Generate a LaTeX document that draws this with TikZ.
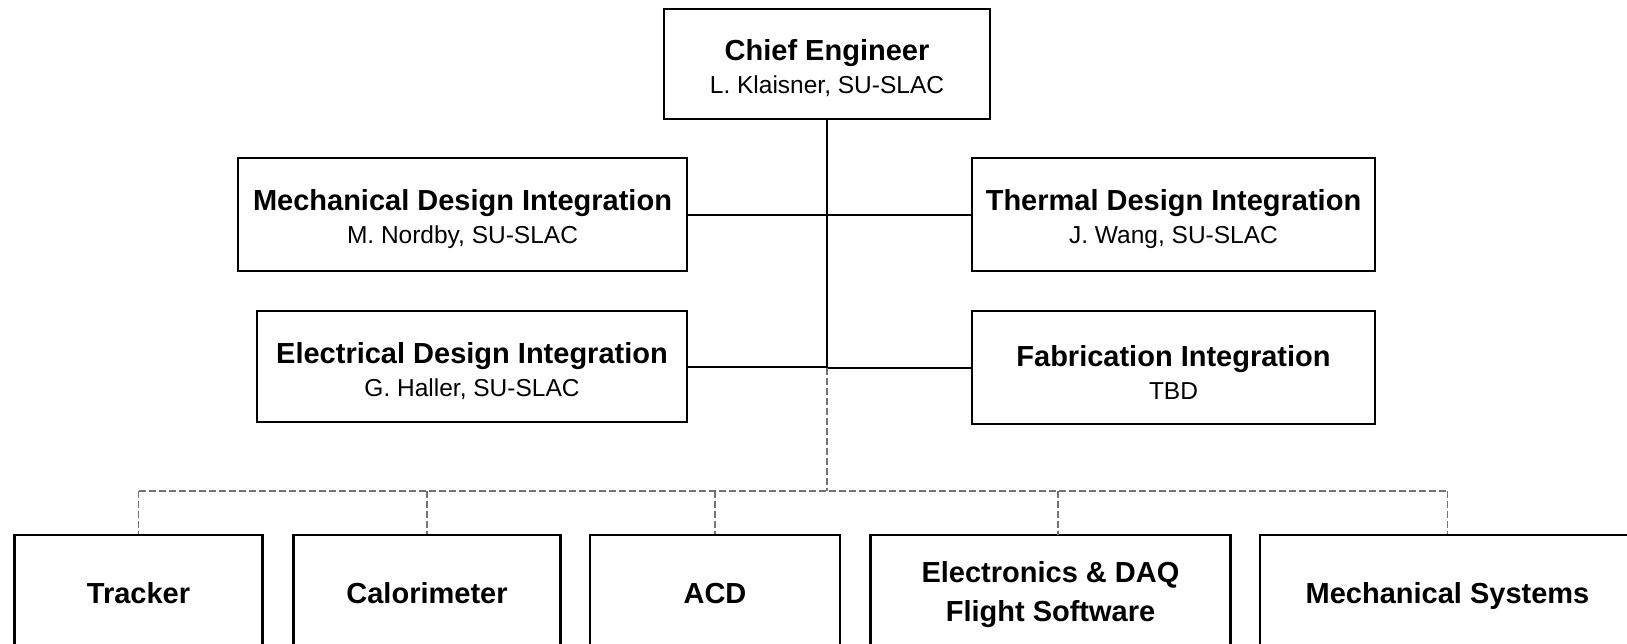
\documentclass[tikz,border=0pt]{standalone}
\usepackage{fontspec}
\setmainfont{Liberation Sans}
\begin{document}
\begin{tikzpicture}[x=1pt,y=-1pt,
  box/.style={draw=black, line width=2.2pt, fill=white, inner sep=0pt, align=center,
    font=\fontsize{29}{34}\selectfont\bfseries},
  single/.style={text height=21pt, text depth=0pt},
  conn/.style={draw=black, line width=2pt},
  dconn/.style={draw=black!55, line width=1.2pt, dash pattern=on 7pt off 3pt}]
\useasboundingbox (0,0) rectangle (1627,643);
\newcommand{\subline}[1]{\\[-1pt]{\fontsize{24.5}{30}\selectfont\mdseries #1}}
\newcommand{\topstrut}{\rule{0pt}{30pt}}
% top boxes
\node[box, minimum width=326pt, minimum height=110pt] (chief) at (827,64)
  {\topstrut Chief Engineer\subline{L. Klaisner, SU-SLAC}};
\node[box, minimum width=449pt, minimum height=113pt] (mech) at (462.5,214.5)
  {\topstrut Mechanical Design Integration\subline{M. Nordby, SU-SLAC}};
\node[box, minimum width=403pt, minimum height=113pt] (therm) at (1173.5,214.5)
  {\topstrut Thermal Design Integration\subline{J. Wang, SU-SLAC}};
\node[box, minimum width=430pt, minimum height=111pt] (elec) at (472,366.5)
  {\topstrut Electrical Design Integration\subline{G. Haller, SU-SLAC}};
\node[box, minimum width=403pt, minimum height=113pt] (fab) at (1173.5,367.5)
  {\topstrut Fabrication Integration\subline{TBD}};
% bottom boxes
\node[box, single, minimum width=248pt, minimum height=115pt] (tr) at (138.5,592.5) {Tracker};
\node[box, single, minimum width=267pt, minimum height=115pt] (cal) at (427,592.5) {Calorimeter};
\node[box, single, minimum width=250pt, minimum height=115pt] (acd) at (715,592.5) {ACD};
\node[box, minimum width=360pt, minimum height=115pt, font=\fontsize{29}{39}\selectfont\bfseries] (ed) at (1050.5,592.5) {\rule{0pt}{26pt}Electronics \& DAQ\\Flight Software};
\node[box, single, minimum width=375pt, minimum height=115pt] (ms) at (1447.5,592.5) {Mechanical Systems};
% coordinates
\coordinate (junc) at (chief.south |- fab.west);
\coordinate (bus) at (826,491);
\coordinate (edtop) at (1058,535);
% solid connectors
\draw[conn] (chief.south) -- (junc);
\draw[conn] (mech.east) -- (therm.west);
\draw[conn] (elec.east) -- (elec.east -| chief.south);
\draw[conn] (fab.west) -- (junc);
% dashed connectors
\draw[dconn] (junc) -- (chief.south |- bus);
\draw[dconn] (tr.north |- bus) -- (ms.north |- bus);
\draw[dconn] (tr.north |- bus) -- (tr.north);
\draw[dconn] (cal.north |- bus) -- (cal.north);
\draw[dconn] (acd.north |- bus) -- (acd.north);
\draw[dconn] (edtop |- bus) -- (edtop);
\draw[dconn] (ms.north |- bus) -- (ms.north);
\end{tikzpicture}
\end{document}
